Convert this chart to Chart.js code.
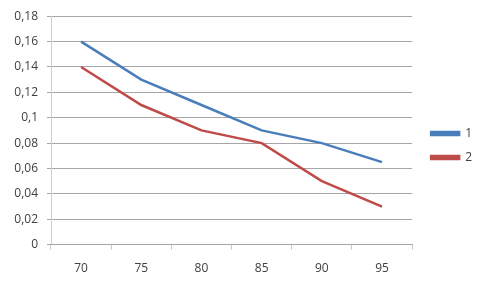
<!DOCTYPE html>
<html>
<head>
<meta charset="utf-8">
<script src="https://cdn.jsdelivr.net/npm/chart.js@4"></script>
<style>
  html, body { margin: 0; padding: 0; background: #fff; }
  #wrap { width: 480px; height: 288px; }
</style>
</head>
<body>
<div id="wrap"><canvas id="lineGraph"></canvas></div>
<script>
// 折れ線グラフ
var categories = ['70', '75', '80', '85', '90', '95'];
var series1 = [0.16, 0.13, 0.11, 0.09, 0.08, 0.065];
var series2 = [0.14, 0.11, 0.09, 0.08, 0.05, 0.03];
var seriesNames = ['1', '2'];

var ctx = document.getElementById('lineGraph').getContext('2d');

var data = {
    labels: categories,
    datasets: [{
        label: seriesNames[0],
        data: series1,
        borderColor: '#4a7ebb',
        backgroundColor: '#4a7ebb',
        borderWidth: 2.5,
        pointRadius: 0,
        tension: 0,
    }, {
        label: seriesNames[1],
        data: series2,
        borderColor: '#be4b48',
        backgroundColor: '#be4b48',
        borderWidth: 2.5,
        pointRadius: 0,
        tension: 0,
    }],
};

var options = {
    responsive: true,
    maintainAspectRatio: false,
    animation: false,
    layout: {
        padding: { left: 0, top: 9, right: 5, bottom: 0 }
    },
    scales: {
        y: {
            min: 0,
            max: 0.18,
            afterFit: function(scale) {
                scale.width = 51;
            },
            ticks: {
                stepSize: 0.02,
                color: '#404040',
                font: { family: 'Open Sans', size: 12 },
                padding: 9,
                callback: function(value) {
                    return Number(value.toFixed(2)).toString().replace('.', ',');
                },
            },
            grid: {
                color: '#a6a6a6',
                tickLength: 4,
            },
            border: { color: '#d0d0d0' }
        },
        x: {
            offset: true,
            ticks: {
                color: '#404040',
                font: { family: 'Open Sans', size: 12 },
                padding: 12,
            },
            grid: {
                offset: true,
                drawOnChartArea: false,
                color: '#c8c8c8',
                tickLength: 5,
            },
            border: { color: '#a6a6a6' }
        }
    },
    plugins: {
        legend: {
            position: 'right',
            labels: {
                boxWidth: 28,
                boxHeight: 3,
                padding: 12,
                color: '#404040',
                font: { family: 'Open Sans', size: 12 },
            }
        },
        tooltip: { enabled: false }
    }
};

// 凡例の位置を微調整
var legendShift = {
    id: 'legendShift',
    afterLayout: function(chart) {
        chart.legend.left += 7;
        chart.legend.top -= 6;
    }
};

var ex_chart = new Chart(ctx, {
    type: 'line',
    data: data,
    options: options,
    plugins: [legendShift]
});
</script>
</body>
</html>
